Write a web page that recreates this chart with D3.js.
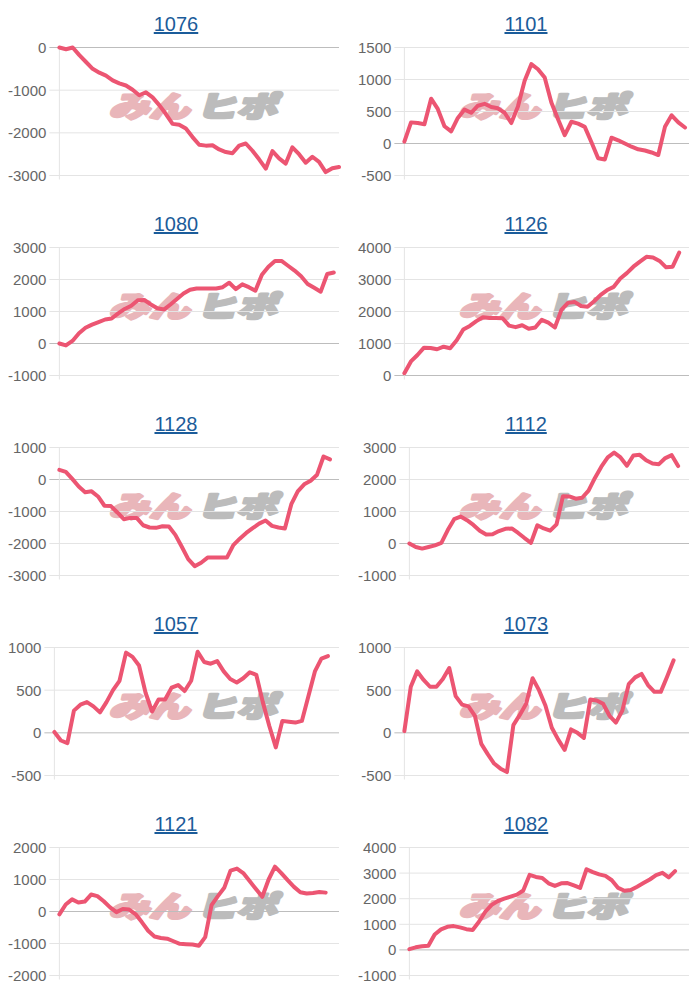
<!DOCTYPE html>
<meta charset="utf-8">
<style>
  body { margin: 0; background: #fff; }
  svg { display: block; }
</style>
<svg width="700" height="1000"></svg>
<script src="https://d3js.org/d3.v7.min.js"></script>
<script>
// machine ids, in page order (left column, right column)
const titles = ["1076", "1101", "1080", "1126", "1128", "1112", "1057", "1073", "1121", "1082"]

const yDomains = [
  [-3000, 0], [-500, 1500],
  [-1000, 3000], [0, 4000],
  [-3000, 1000], [-1000, 3000],
  [-500, 1000], [-500, 1000],
  [-2000, 2000], [-1000, 4000]
]
const yTickSteps = [1000, 500, 1000, 1000, 1000, 1000, 500, 500, 1000, 1000]

// last point of every series sits a bit short of the right edge
const xMax = [42, 42.6, 42.8, 43.5, 43.4, 43.7, 43.7, 44.4, 44.1, 44.2]

const s1076 = [0, -40, 0, -180, -340, -500, -590, -660, -770, -840, -890, -990, -1120, -1050, -1170, -1350,
  -1560, -1790, -1810, -1900, -2100, -2280, -2300, -2290, -2390, -2450, -2480, -2300, -2250, -2420, -2620,
  -2840, -2430, -2600, -2720, -2340, -2500, -2700, -2560, -2680, -2920, -2830, -2800]
const s1101 = [30, 330, 320, 300, 700, 540, 270, 190, 400, 530, 480, 590, 620, 570, 550, 480, 320, 580, 980,
  1240, 1160, 1030, 640, 380, 130, 340, 310, 260, 20, -230, -250, 90, 50, 0, -50, -90, -110, -140, -180, 260,
  440, 330, 250]
const s1080 = [0, -60, 80, 320, 490, 590, 670, 750, 780, 940, 1080, 1180, 1350, 1360, 1220, 1100, 1060, 1220,
  1390, 1560, 1680, 1720, 1720, 1720, 1720, 1760, 1900, 1700, 1850, 1760, 1650, 2150, 2400, 2580, 2580, 2430,
  2280, 2100, 1860, 1740, 1620, 2170, 2220]
const s1126 = [70, 440, 640, 870, 860, 820, 900, 850, 1100, 1440, 1550, 1700, 1820, 1800, 1800, 1790, 1560,
  1510, 1570, 1460, 1500, 1740, 1650, 1500, 2050, 2270, 2300, 2170, 2150, 2320, 2520, 2670, 2770, 3030, 3200,
  3400, 3560, 3710, 3690, 3580, 3380, 3400, 3840]
const s1128 = [300, 240, 20, -220, -400, -370, -530, -820, -830, -1030, -1240, -1200, -1200, -1430, -1500,
  -1510, -1460, -1470, -1730, -2100, -2490, -2710, -2600, -2440, -2440, -2440, -2440, -2050, -1850, -1670,
  -1520, -1380, -1280, -1450, -1500, -1530, -770, -370, -150, -40, 150, 720, 630]
const s1112 = [0, -110, -160, -110, -60, 20, 420, 760, 840, 730, 580, 400, 280, 290, 390, 460, 470, 330, 170,
  20, 570, 470, 400, 600, 1480, 1470, 1400, 1430, 1650, 2050, 2400, 2690, 2840, 2690, 2430, 2750, 2770, 2600,
  2500, 2480, 2670, 2760, 2420]
const s1057 = [10, -90, -120, 260, 330, 360, 310, 240, 360, 500, 610, 940, 890, 790, 470, 250, 390, 390, 530,
  560, 490, 610, 950, 830, 810, 840, 720, 630, 590, 640, 710, 680, 360, 80, -170, 140, 130, 120, 140, 430, 720,
  870, 900]
const s1073 = [20, 540, 720, 620, 540, 540, 630, 760, 430, 330, 310, 200, -130, -250, -360, -420, -460, 90,
  210, 340, 640, 500, 320, 60, -80, -200, 40, 0, -60, 390, 380, 340, 200, 120, 260, 570, 650, 690, 560, 480,
  480, 660, 850]
const s1121 = [-90, 220, 380, 280, 310, 530, 480, 320, 130, -20, 80, 60, -80, -330, -600, -780, -830, -850,
  -930, -1010, -1020, -1030, -1070, -800, 200, 480, 740, 1280, 1340, 1200, 950, 700, 460, 1000, 1400, 1200,
  980, 770, 600, 560, 580, 610, 590]
const s1082 = [30, 100, 140, 160, 600, 800, 900, 930, 880, 810, 780, 1100, 1490, 1760, 1910, 2000, 2080, 2160,
  2320, 2930, 2850, 2810, 2600, 2500, 2600, 2610, 2520, 2420, 3150, 3040, 2950, 2890, 2720, 2420, 2310, 2340,
  2470, 2610, 2750, 2920, 3010, 2830, 3080]

const series = [s1076, s1101, s1080, s1126, s1128, s1112, s1057, s1073, s1121, s1082]

const svg = d3.select('svg')
const panelW = 350, panelH = 200
const lineColour = '#ec5572'

titles.forEach((title, i) => {
  const px = (i % 2) * panelW
  const py = Math.floor(i / 2) * panelH
  const g = svg.append('g').attr('transform', `translate(${px},${py})`)

  const [y0, y1] = yDomains[i]
  const ticks = d3.range(y0, y1 + 1, yTickSteps[i])
  const top = 47.5, bottom = 175.5

  const y = d3.scaleLinear().domain([y0, y1]).range([bottom, top])

  // tick labels first, so the plot can start right after the widest one
  const labels = g.append('g')
    .selectAll('text')
    .data(ticks)
    .enter().append('text')
    .text(d => d)
    .attr('y', d => y(d))
    .attr('dy', '0.36em')
    .attr('text-anchor', 'end')
    .attr('font-family', 'Liberation Sans, Arial, sans-serif')
    .attr('font-size', 15)
    .attr('fill', '#666')
  let maxW = 0
  labels.each(function () { maxW = Math.max(maxW, this.getComputedTextLength()) })
  const labelRight = 8 + maxW
  labels.attr('x', labelRight)

  const left = labelRight + 13
  const right = 339
  const x = d3.scaleLinear().domain([0, xMax[i]]).range([left, right])

  // watermark (heavy slanted logo)
  const wm = g.append('text')
    .attr('transform', 'translate(193,117) skewX(-16) scale(1.12,0.8)')
    .attr('text-anchor', 'middle')
    .attr('font-family', 'Noto Sans CJK JP')
    .attr('font-weight', 900)
    .attr('font-size', 36)
    .attr('stroke-width', 3.5)
    .attr('stroke-linejoin', 'round')
  wm.append('tspan').text('みん').attr('fill', '#e9b6ba').attr('stroke', '#e9b6ba')
  wm.append('tspan').text('ヒポ').attr('fill', '#bcbcbc').attr('stroke', '#bcbcbc').attr('dx', 6)

  // grid
  g.append('g')
    .selectAll('line')
    .data(ticks)
    .enter().append('line')
    .attr('x1', left - 10)
    .attr('x2', right)
    .attr('y1', d => y(d))
    .attr('y2', d => y(d))
    .attr('stroke', d => d === 0 ? '#bdbdbd' : '#e4e4e4')
    .attr('stroke-width', 1)

  g.append('line')
    .attr('x1', left).attr('x2', left)
    .attr('y1', top).attr('y2', bottom + 4)
    .attr('stroke', '#e4e4e4')

  const line = d3.line()
    .x((d, k) => x(k))
    .y(d => y(d))

  g.append('path')
    .datum(series[i])
    .attr('d', line)
    .attr('fill', 'none')
    .attr('stroke', lineColour)
    .attr('stroke-width', 4)
    .attr('stroke-linejoin', 'round')
    .attr('stroke-linecap', 'round')

  // title, looks like a link
  g.append('text')
    .text(title)
    .attr('x', 176)
    .attr('y', 31)
    .attr('text-anchor', 'middle')
    .attr('font-family', 'Liberation Sans, Arial, sans-serif')
    .attr('font-size', 20)
    .attr('fill', '#1b5c9a')
    .attr('text-decoration', 'underline')
})
</script>
